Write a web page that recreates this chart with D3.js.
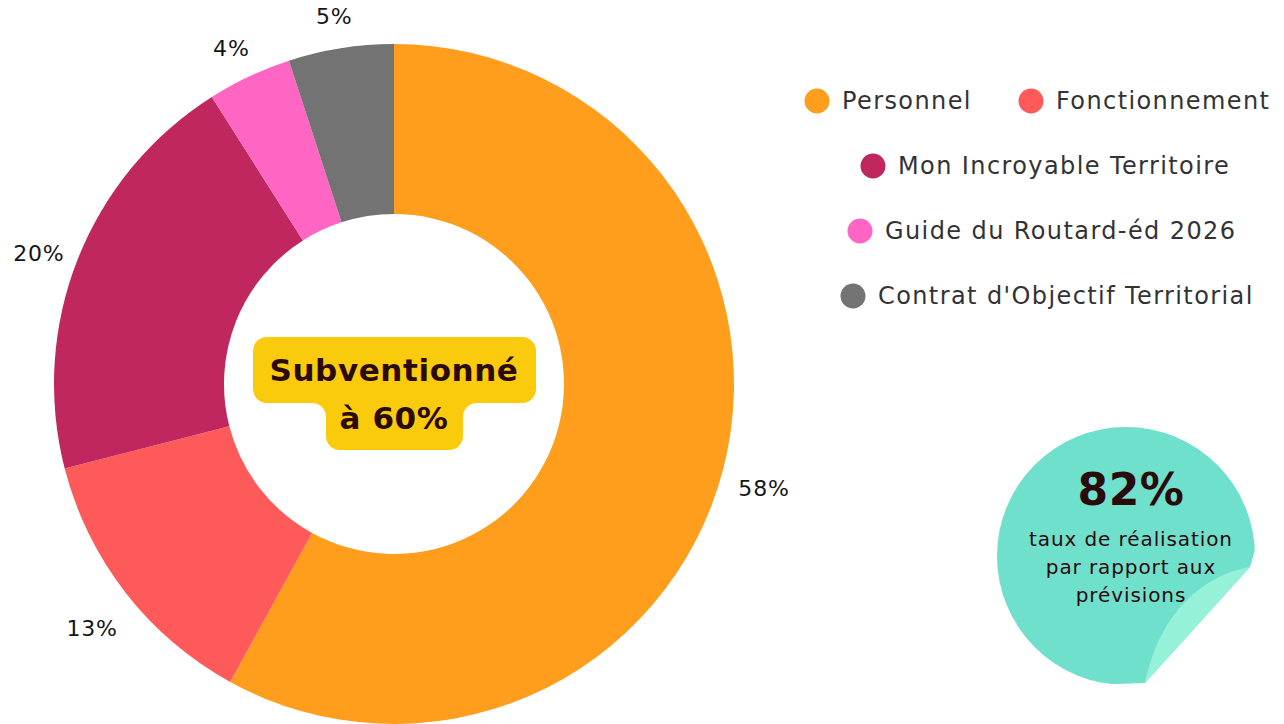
<!DOCTYPE html>
<html>
<head>
<meta charset="utf-8">
<script src="https://cdn.jsdelivr.net/npm/d3@7"></script>
<style>
  html, body { margin: 0; padding: 0; background: #fff; }
  svg { display: block; }
</style>
</head>
<body>
<svg id="chart" width="1284" height="724"></svg>
<script>
// données
var categories = ['Personnel', 'Fonctionnement', 'Mon Incroyable Territoire', 'Guide du Routard-éd 2026', "Contrat d'Objectif Territorial"];
var values = [58, 13, 20, 4, 5];
var palette = ['#FF9D1C', '#FF5A5A', '#C0275E', '#FF66C4', '#737373'];
var centerLines = ['Subventionné', 'à 60%'];
var stickerValue = '82%';
var stickerLines = ['taux de réalisation', 'par rapport aux', 'prévisions'];

var svg = d3.select('#chart');
var font = "'DejaVu Sans', sans-serif";

var cx = 394, cy = 384;
var outerR = 340, innerR = 170;

var color = d3.scaleOrdinal().domain(categories).range(palette);

var pie = d3.pie().sort(null).value(d => d.value);
var data = categories.map((c, i) => ({ name: c, value: values[i] }));
var arcs = pie(data);

var arc = d3.arc().innerRadius(innerR).outerRadius(outerR);
var labelArc = d3.arc().innerRadius(382).outerRadius(382);

var g = svg.append('g').attr('transform', 'translate(' + cx + ',' + cy + ')');

g.selectAll('path.slice')
  .data(arcs)
  .enter().append('path')
  .attr('class', 'slice')
  .attr('d', arc)
  .attr('fill', d => color(d.data.name));

var total = d3.sum(values);
g.selectAll('text.pct')
  .data(arcs)
  .enter().append('text')
  .attr('class', 'pct')
  .attr('transform', d => {
    var p = labelArc.centroid(d);
    return 'translate(' + p[0] + ',' + (p[1] + 10) + ')';
  })
  .attr('text-anchor', 'middle')
  .attr('dominant-baseline', 'central')
  .attr('font-family', font)
  .attr('font-size', 22)
  .attr('letter-spacing', 0.8)
  .attr('fill', '#151515')
  .text(d => Math.round(d.data.value / total * 100) + '%');

// badge central
var badge = svg.append('g');
var badgePath = d3.path();
// forme en T arrondie
(function () {
  var x0 = 253, x1 = 536, y0 = 337, y1 = 403, bx0 = 326, bx1 = 463, y2 = 450, r = 14;
  badgePath.moveTo(x0 + r, y0);
  badgePath.lineTo(x1 - r, y0);
  badgePath.arcTo(x1, y0, x1, y0 + r, r);
  badgePath.lineTo(x1, y1 - r);
  badgePath.arcTo(x1, y1, x1 - r, y1, r);
  badgePath.lineTo(bx1 + r, y1);
  badgePath.arcTo(bx1, y1, bx1, y1 + r, r);
  badgePath.lineTo(bx1, y2 - r);
  badgePath.arcTo(bx1, y2, bx1 - r, y2, r);
  badgePath.lineTo(bx0 + r, y2);
  badgePath.arcTo(bx0, y2, bx0, y2 - r, r);
  badgePath.lineTo(bx0, y1 + r);
  badgePath.arcTo(bx0, y1, bx0 - r, y1, r);
  badgePath.lineTo(x0 + r, y1);
  badgePath.arcTo(x0, y1, x0, y1 - r, r);
  badgePath.lineTo(x0, y0 + r);
  badgePath.arcTo(x0, y0, x0 + r, y0, r);
  badgePath.closePath();
})();
badge.append('path').attr('d', badgePath.toString()).attr('fill', '#F9CB0C');
badge.selectAll('text')
  .data(centerLines)
  .enter().append('text')
  .attr('x', cx)
  .attr('y', (d, i) => 381 + i * 48)
  .attr('text-anchor', 'middle')
  .attr('font-family', font)
  .attr('font-weight', 'bold')
  .attr('font-size', 31)
  .attr('letter-spacing', 0.6)
  .attr('fill', '#2A0A0A')
  .text(d => d);

// légende
var legendPos = [
  { x: 817, y: 101 }, { x: 1031, y: 101 }, { x: 873, y: 166 }, { x: 860, y: 231 }, { x: 853, y: 296 }
];
var legend = svg.append('g');
var items = legend.selectAll('g.item')
  .data(categories)
  .enter().append('g')
  .attr('class', 'item')
  .attr('transform', (d, i) => 'translate(' + legendPos[i].x + ',' + legendPos[i].y + ')');
items.append('circle').attr('r', 12.5).attr('fill', d => color(d));
items.append('text')
  .attr('x', 25)
  .attr('dy', '0.35em')
  .attr('font-family', font)
  .attr('font-size', 24)
  .attr('letter-spacing', 1.4)
  .attr('fill', '#333')
  .text(d => d);

// pastille 82%
var sx = 1126, sy = 556, sr = 129;
var sticker = svg.append('g');
sticker.append('clipPath').attr('id', 'peel')
  .append('path')
  .attr('d', 'M0,0 L1284,0 L1284,450 L1250,567 L1145,683 L0,724 Z');
sticker.append('circle')
  .attr('cx', sx).attr('cy', sy).attr('r', sr)
  .attr('fill', '#6EE0CB')
  .attr('clip-path', 'url(#peel)');
sticker.append('path')
  .attr('d', 'M1250,567 C1205,575 1160,610 1145,683 Z')
  .attr('fill', '#95F1D8');
sticker.append('text')
  .attr('x', 1131).attr('y', 505)
  .attr('text-anchor', 'middle')
  .attr('font-family', font)
  .attr('font-weight', 'bold')
  .attr('font-size', 44)
  .attr('letter-spacing', 0.5)
  .attr('fill', '#2A0A0A')
  .text(stickerValue);
sticker.selectAll('text.sub')
  .data(stickerLines)
  .enter().append('text')
  .attr('class', 'sub')
  .attr('x', 1131)
  .attr('y', (d, i) => 546 + i * 28)
  .attr('text-anchor', 'middle')
  .attr('font-family', font)
  .attr('font-size', 20)
  .attr('letter-spacing', 0.9)
  .attr('fill', '#2A0A0A')
  .text(d => d);
</script>
</body>
</html>
